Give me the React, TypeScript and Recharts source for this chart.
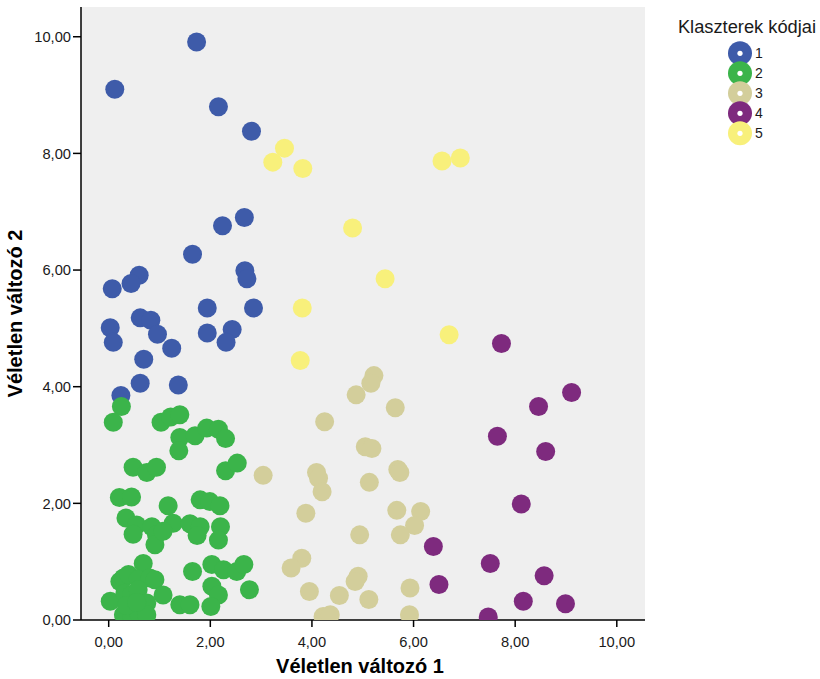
import React from 'react';
import { ScatterChart, Scatter, XAxis, YAxis, CartesianGrid, Legend } from 'recharts';

// Cluster 1 (blue)
const cluster1: number[][] = [
  [1.73, 9.91], [0.12, 9.10], [2.16, 8.80], [2.81, 8.38], [2.67, 6.90], [2.24, 6.76],
  [1.65, 6.27], [2.68, 5.99], [2.72, 5.85], [0.60, 5.91], [0.44, 5.77], [0.07, 5.68],
  [1.94, 5.35], [2.85, 5.35], [0.03, 5.01], [0.62, 5.18], [0.83, 5.14], [0.96, 4.90],
  [1.94, 4.92], [2.43, 4.98], [2.31, 4.76], [0.09, 4.76], [1.24, 4.66], [0.69, 4.47],
  [0.62, 4.06], [1.37, 4.03], [0.24, 3.85],
];

// Cluster 2 (green)
const cluster2: number[][] = [
  [0.25, 3.66], [0.09, 3.39], [1.03, 3.39], [1.22, 3.48], [1.40, 3.52], [1.40, 3.13],
  [1.38, 2.90], [1.70, 3.16], [1.93, 3.29], [2.16, 3.27], [2.30, 3.11], [0.48, 2.62],
  [0.75, 2.53], [0.94, 2.62], [2.30, 2.56], [2.53, 2.69],
  [0.21, 2.10], [0.45, 2.11], [1.17, 1.96], [1.80, 2.06], [1.99, 2.03], [2.19, 1.96],
  [0.34, 1.75], [0.55, 1.63], [0.48, 1.47], [0.85, 1.60], [0.94, 1.46], [0.91, 1.29],
  [1.27, 1.66], [1.07, 1.52], [1.60, 1.65], [1.80, 1.60], [2.20, 1.60], [1.74, 1.45],
  [2.16, 1.37],
  [0.68, 0.97], [0.22, 0.66], [0.29, 0.72], [0.39, 0.78], [0.58, 0.70], [0.81, 0.72],
  [0.91, 0.69], [1.07, 0.43], [0.03, 0.32], [0.32, 0.46], [0.45, 0.43], [0.58, 0.52],
  [0.75, 0.29], [0.29, 0.09], [0.45, 0.08], [0.60, 0.10], [0.75, 0.09], [0.35, 0.25],
  [0.55, 0.30], [1.65, 0.83], [2.03, 0.95], [2.26, 0.86], [2.52, 0.83], [2.66, 0.95],
  [2.03, 0.58], [2.16, 0.43], [2.77, 0.52], [1.40, 0.26], [1.60, 0.26], [2.01, 0.23],
];

// Cluster 3 (tan)
const cluster3: number[][] = [
  [5.22, 4.19], [5.16, 4.06], [4.87, 3.86], [5.64, 3.64], [4.25, 3.40], [5.05, 2.97],
  [5.18, 2.94], [4.09, 2.53], [4.13, 2.43], [4.20, 2.20], [5.13, 2.36], [5.69, 2.58],
  [5.73, 2.53], [3.88, 1.83], [5.67, 1.88], [6.14, 1.86], [6.02, 1.62], [4.94, 1.46],
  [5.74, 1.46], [3.04, 2.48], [3.80, 1.06], [3.59, 0.89], [4.91, 0.75], [4.85, 0.66],
  [3.95, 0.49], [4.54, 0.42], [5.12, 0.35], [5.93, 0.55], [5.92, 0.09], [4.22, 0.06],
  [4.36, 0.09],
];

// Cluster 4 (purple)
const cluster4: number[][] = [
  [7.73, 4.74], [9.11, 3.90], [8.46, 3.66], [7.65, 3.15], [8.60, 2.89], [8.12, 1.99],
  [6.39, 1.26], [7.51, 0.97], [8.57, 0.76], [6.50, 0.61], [8.16, 0.32], [8.99, 0.28],
  [7.47, 0.05],
];

// Cluster 5 (yellow)
const cluster5: number[][] = [
  [3.23, 7.85], [3.46, 8.09], [3.82, 7.74], [3.81, 5.35], [6.56, 7.87], [6.92, 7.92],
  [4.80, 6.72], [5.44, 5.85], [6.70, 4.89], [3.77, 4.45],
];

const clusterNames = ['1', '2', '3', '4', '5'];
const clusterColors = ['#3E5BA9', '#3BB44A', '#D3CE9B', '#7E2A7E', '#F8F07B'];
const clusterPoints = [cluster1, cluster2, cluster3, cluster4, cluster5];

const xTicks = [0, 2, 4, 6, 8, 10];
const yTicks = [0, 2, 4, 6, 8, 10];
const xDomain: [number, number] = [-0.545, 10.555];
const yDomain: [number, number] = [0, 10.51];

const legendTitle = 'Klaszterek kódjai';
const xLabel = 'Véletlen változó 1';
const yLabel = 'Véletlen változó 2';

const FONT = '"Liberation Sans", Arial, Helvetica, sans-serif';

const fmt = (v: number) => v.toFixed(2).replace('.', ',');

const makeDot = (color: string) => (props: any) => (
  <circle cx={props.cx} cy={props.cy} r={9.5} fill={color} />
);

const LegendContent = () => (
  <svg width={160} height={160} style={{ display: 'block' }}>
    <text x={87} y={33} textAnchor="middle" fontSize={18.3} fill="#1a1a1a" fontFamily={FONT}>
      {legendTitle}
    </text>
    {clusterNames.map((name, i) => (
      <g key={name}>
        <circle cx={80} cy={53.3 + i * 20} r={12} fill={clusterColors[i]} />
        <circle cx={80} cy={53.3 + i * 20} r={2.6} fill="#ffffff" />
        <text x={95} y={53.3 + i * 20} dy="0.36em" fontSize={14} fill="#1a1a1a" fontFamily={FONT}>
          {name}
        </text>
      </g>
    ))}
  </svg>
);

export default function App() {
  return (
    <div style={{ position: 'absolute', left: 0, top: 0, fontFamily: FONT }}>
      <ScatterChart
        width={820}
        height={679}
        margin={{ top: 7, right: 175, bottom: 0, left: 0 }}
      >
        <CartesianGrid fill="#EFEFEF" horizontal={false} vertical={false} />
        <XAxis
          type="number"
          dataKey="x"
          domain={xDomain}
          ticks={xTicks}
          allowDataOverflow
          tickFormatter={fmt}
          height={59}
          tickSize={7}
          tickMargin={10}
          axisLine={{ stroke: '#000', strokeWidth: 1.5 }}
          tickLine={{ stroke: '#000', strokeWidth: 1.5 }}
          tick={{ fill: '#1a1a1a', fontSize: 14.7, fontFamily: FONT }}
          label={{
            value: xLabel,
            position: 'insideBottom',
            offset: 6,
            dx: -3,
            style: { fontSize: 20, fontWeight: 'bold', fill: '#000', fontFamily: FONT },
          }}
        />
        <YAxis
          type="number"
          dataKey="y"
          domain={yDomain}
          ticks={yTicks}
          allowDataOverflow
          tickFormatter={fmt}
          width={81}
          tickSize={8}
          tickMargin={2}
          axisLine={{ stroke: '#000', strokeWidth: 1.5 }}
          tickLine={{ stroke: '#000', strokeWidth: 1.5 }}
          tick={{ fill: '#1a1a1a', fontSize: 14.7, fontFamily: FONT }}
          label={{
            value: yLabel,
            angle: -90,
            position: 'insideLeft',
            offset: 14.5,
            dy: 0,
            style: { textAnchor: 'middle', fontSize: 20, fontWeight: 'bold', fill: '#000', fontFamily: FONT },
          }}
        />
        <XAxis
          xAxisId="top"
          orientation="top"
          type="number"
          domain={[0, 1]}
          height={0}
          tick={false}
          tickLine={false}
          axisLine={{ stroke: '#444', strokeWidth: 1.2 }}
        />
        <YAxis
          yAxisId="right"
          orientation="right"
          type="number"
          domain={[0, 1]}
          width={0}
          tick={false}
          tickLine={false}
          axisLine={{ stroke: '#555', strokeWidth: 1.5 }}
        />
        {clusterPoints.map((pts, i) => (
          <Scatter
            key={clusterNames[i]}
            name={clusterNames[i]}
            data={pts.map(([x, y]) => ({ x, y }))}
            fill={clusterColors[i]}
            shape={makeDot(clusterColors[i])}
            isAnimationActive={false}
          />
        ))}
        <Legend
          layout="horizontal"
          verticalAlign="middle"
          align="center"
          content={LegendContent}
          wrapperStyle={{ position: 'absolute', left: 660, top: 0, width: 160, height: 160 }}
        />
      </ScatterChart>
    </div>
  );
}
